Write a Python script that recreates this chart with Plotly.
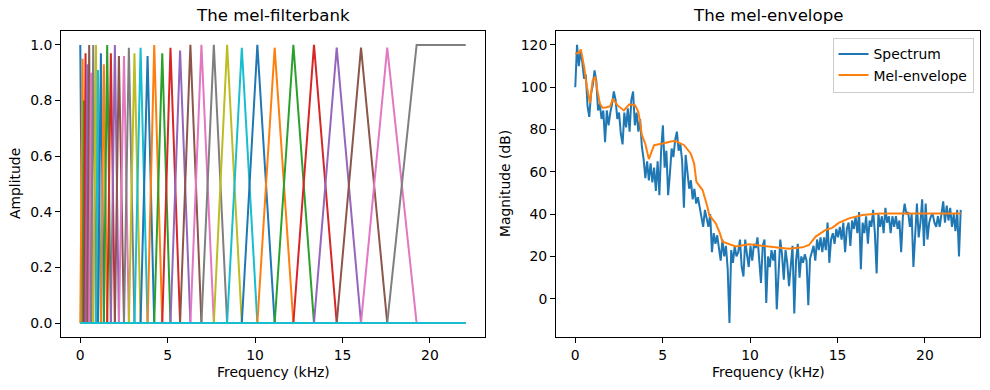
import numpy as np
import plotly.graph_objects as go

NYQUIST_KHZ = 22.05

# ---- Left panel: mel filterbank (peak frequency in kHz and peak amplitude per filter)
filter_centers_khz = [0.0, 0.13, 0.21, 0.30, 0.41, 0.51, 0.61, 0.74, 0.90, 1.01,
                      1.18, 1.35, 1.54, 1.75, 1.98, 2.21, 2.50, 2.78, 3.10, 3.45,
                      3.85, 4.23, 4.69, 5.16, 5.71, 6.30, 6.93, 7.64, 8.40, 9.24,
                      10.13, 11.12, 12.19, 13.37, 14.67, 16.06, 17.56, 19.24]
filter_peaks = [1.0, 0.95, 0.80, 0.97, 0.93, 1.0, 0.90, 1.0, 1.0, 0.91,
                0.97, 0.93, 1.0, 0.97, 1.0, 0.96, 0.96, 0.99, 0.97, 0.99,
                0.96, 1.0, 0.97, 0.99, 0.98, 1.0, 1.0, 1.0, 1.0, 0.99,
                1.0, 0.99, 1.0, 1.0, 0.99, 0.99, 0.99, 1.0]
n_filters = 40

# ---- Right panel: spectrum (dB) on an even frequency grid 0..22.05 kHz
spectrum_db = [
    100, 120, 110, 117, 112, 104, 106, 91, 86, 97,
    101, 108, 103, 89, 92, 85, 89, 74, 89, 82,
    88, 92, 98, 94, 85, 88, 78, 73, 88, 81,
    90, 79, 94, 98, 82, 88, 79, 85, 72, 66,
    57, 65, 56, 64, 55, 62, 51, 65, 49, 70,
    82, 62, 70, 49, 59, 71, 67, 75, 79, 70,
    73, 65, 43, 68, 60, 52, 56, 47, 52, 45,
    48, 43, 40, 34, 42, 37, 34, 40, 22, 31,
    26, 30, 23, 18, 28, 20, 25, 14, -11.5, 23,
    17, 25, 20, 22, 28, 15, 10.5, 28, 21, 15,
    25, 18, 26, 24, 29, 17, 7.5, 25, 28, -2,
    20, 15, 23, 18, 23, -5, 15, 28, 21, 9,
    23, 17, 6, 15, 25, -7, 18, 26, 10, 20,
    17, 21, 18, -3, 19, 22, 25, 18, 28, 23,
    29, 22, 29, 23, 36, 17, 28, 31, 26, 33,
    29, 34, 28, 36, 22, 33, 36, 25, 37, 33,
    39, 31, 41, 14, 36, 31, 39, 26, 37, 34,
    42, 31, 12, 40, 34, 39, 31, 43, 36, 39,
    31, 39, 34, 39, 33, 37, 22, 39, 45, 40,
    41, 34, 40, 15, 34, 45, 29, 36, 47, 25,
    45, 28, 36, 39, 40, 36, 34, 39, 34, 40,
    46, 36, 44, 37, 43, 34, 40, 32, 42, 20,
    42,
]
spectrum_freq_khz = np.linspace(0, NYQUIST_KHZ, len(spectrum_db))

envelope_freq_khz = [0.0, 0.2, 0.32, 0.51, 0.65, 0.84, 0.99, 1.14, 1.28, 1.41,
                     1.56, 1.75, 2.0, 2.15, 2.42, 2.78, 3.09, 3.43, 3.6, 3.66,
                     3.81, 4.0, 4.21, 4.35, 4.51, 5.0, 5.6, 5.8, 6.23, 6.61,
                     6.8, 6.93, 7.28, 7.56, 7.66, 8.04, 8.27, 8.42, 8.8, 9.18,
                     9.94, 11.0, 12.2, 13.0, 13.37, 13.75, 14.32, 14.70, 15.09, 15.66,
                     16.42, 17.4, 22.05]
envelope_db = [115.8, 116.3, 117.8, 109.5, 101, 92.5, 103, 105, 97.7, 92.2,
               90.3, 90.4, 91, 94.5, 91.4, 89, 91.9, 91.4, 88.5, 85.9,
               77.3, 73.4, 66, 69.5, 72.6, 73.4, 74.6, 74.4, 72.6, 68.6,
               63.9, 55.3, 51.4, 43.5, 39.6, 35.6, 31, 27, 25.8, 24.7,
               25.8, 24.7, 23.6, 24.3, 25.4, 29.4, 32.5, 33.5, 36, 38,
               39.6, 40.3, 40.3]

x_ticks = [0, 5, 10, 15, 20]
amp_ticks = [0, 0.2, 0.4, 0.6, 0.8, 1.0]
db_ticks = [0, 20, 40, 60, 80, 100, 120]

TAB10 = ["#1f77b4", "#ff7f0e", "#2ca02c", "#d62728", "#9467bd",
         "#8c564b", "#e377c2", "#7f7f7f", "#bcbd22", "#17becf"]

FONT = "DejaVu Sans"
FS = 13.9
fig = go.Figure()

nc = len(filter_centers_khz)
for k in range(n_filters):
    if k == 0:
        xs = [0.0, filter_centers_khz[1], NYQUIST_KHZ]
        ys = [filter_peaks[0], 0, 0]
    elif k < nc - 1:
        xs = [0.0, filter_centers_khz[k - 1], filter_centers_khz[k],
              filter_centers_khz[k + 1], NYQUIST_KHZ]
        ys = [0, 0, filter_peaks[k], 0, 0]
    elif k == nc - 1:
        xs = [0.0, filter_centers_khz[k - 1], filter_centers_khz[k], NYQUIST_KHZ]
        ys = [0, 0, filter_peaks[k], filter_peaks[k]]
    else:
        xs = [0.0, NYQUIST_KHZ]
        ys = [0, 0]
    fig.add_trace(go.Scatter(x=xs, y=ys, mode="lines",
                             line=dict(color=TAB10[k % 10], width=2),
                             showlegend=False, hoverinfo="skip",
                             xaxis="x", yaxis="y"))

fig.add_trace(go.Scatter(x=spectrum_freq_khz, y=spectrum_db, mode="lines",
                         name="Spectrum", line=dict(color=TAB10[0], width=2),
                         xaxis="x2", yaxis="y2"))
fig.add_trace(go.Scatter(x=envelope_freq_khz, y=envelope_db, mode="lines",
                         name="Mel-envelope", line=dict(color=TAB10[1], width=2),
                         xaxis="x2", yaxis="y2"))

xpad = 0.05 * NYQUIST_KHZ
xr = [-xpad, NYQUIST_KHZ + xpad]
lo = min(min(spectrum_db), min(envelope_db))
hi = max(max(spectrum_db), max(envelope_db))
ypad = 0.05 * (hi - lo)

axis_common = dict(showline=True, linecolor="black", linewidth=1, mirror=True,
                   ticks="outside", ticklen=5, tickwidth=1, tickcolor="black",
                   showgrid=False, zeroline=False, automargin=False,
                   tickfont=dict(family=FONT, size=FS, color="black"))

W, H = 990, 390
# target plot-area edges in page pixels
L_LEFT, L_RIGHT, R_LEFT, R_RIGHT, TOP, BOTTOM = 61, 485, 556, 980, 31, 337
ml = L_LEFT
mt = TOP
mr = W - R_RIGHT
mb = H - BOTTOM
pw = W - ml - mr
ph = H - mt - mb
left_dom = [0, (L_RIGHT - L_LEFT) / pw]
right_dom = [(R_LEFT - L_LEFT) / pw, 1]


def px_x(p):
    return (p - ml) / pw


def px_y(p):
    return 1 - (p - mt) / ph


fig.update_layout(
    width=W, height=H,
    margin=dict(l=ml, r=mr, t=mt, b=mb),
    plot_bgcolor="white", paper_bgcolor="white",
    font=dict(family=FONT, size=FS, color="black"),
    xaxis=dict(domain=left_dom, range=xr, tickvals=x_ticks,
               anchor="y", **axis_common),
    yaxis=dict(domain=[0, 1], range=[-0.05, 1.05],
               tickvals=amp_ticks, tickformat=".1f",
               anchor="x", **axis_common),
    xaxis2=dict(domain=right_dom, range=xr, tickvals=x_ticks,
                anchor="y2", **axis_common),
    yaxis2=dict(domain=[0, 1], range=[lo - ypad, hi + ypad],
                tickvals=db_ticks,
                anchor="x2", **axis_common),
    legend=dict(x=px_x(973.5), y=px_y(37.5),
                xanchor="right", yanchor="top",
                bgcolor="rgba(255,255,255,0.8)", bordercolor="#cccccc",
                borderwidth=1, tracegroupgap=0,
                font=dict(family=FONT, size=FS, color="black")),
)

annots = [
    ("The mel-filterbank", px_x(273), px_y(16), 0, 16.6),
    ("The mel-envelope", px_x(768), px_y(16), 0, 16.6),
    ("Frequency (kHz)", px_x(273), px_y(372), 0, FS),
    ("Frequency (kHz)", px_x(768), px_y(372), 0, FS),
    ("Amplitude", px_x(15), px_y(184), -90, FS),
    ("Magnitude (dB)", px_x(505), px_y(184), -90, FS),
]
for text, ax, ay, ang, sz in annots:
    fig.add_annotation(text=text, xref="paper", yref="paper", x=ax, y=ay,
                       xanchor="center", yanchor="middle", showarrow=False,
                       textangle=ang, font=dict(family=FONT, size=sz, color="black"))

fig.write_html("out.html", config={"displayModeBar": False},
               post_script="document.body.style.margin='0';")
